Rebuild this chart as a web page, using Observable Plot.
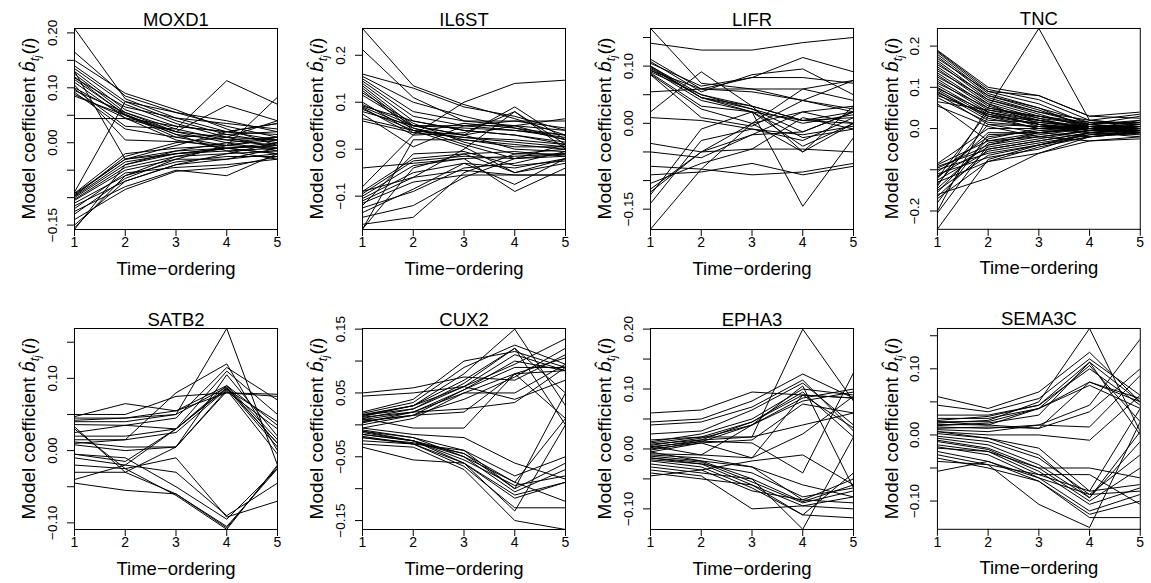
<!DOCTYPE html>
<html><head><meta charset="utf-8">
<script src="https://cdn.jsdelivr.net/npm/d3@7"></script>
<script src="https://cdn.jsdelivr.net/npm/@observablehq/plot@0.6"></script>
<style>
html,body{margin:0;padding:0;background:#fff;overflow:hidden}
#wrap{position:relative;width:1151px;height:583px;background:#fff}
.panel{position:absolute}
</style></head><body><div id="wrap"></div>
<script>
const genes = ["MOXD1","IL6ST","LIFR","TNC","SATB2","CUX2","EPHA3","SEMA3C"];
const timePoints = [1,2,3,4,5];
const xLabel = "Time\u2212ordering";
const yLabelText = "Model coefficient ";

// each row = one coefficient path over time-orderings 1..5
const moxd1 = [
[0.208,0.080,0.045,0.020,0.005],[0.165,0.085,0.055,0.030,0.010],[0.150,0.090,0.060,0.025,-0.005],
[0.140,0.075,0.040,0.015,0.000],[0.135,0.070,0.035,0.010,-0.010],[0.130,0.060,0.030,0.020,0.015],
[0.125,0.055,0.025,0.005,-0.005],[0.120,0.050,0.020,0.000,-0.015],[0.118,0.065,0.045,0.035,0.025],
[0.115,0.052,0.015,0.005,0.010],[0.110,0.045,0.030,0.020,0.035],[0.100,0.050,0.010,-0.005,-0.010],
[0.098,0.030,0.025,0.113,0.070],[0.095,0.055,0.020,0.068,0.040],[0.092,0.025,0.010,0.015,0.020],
[0.088,0.045,0.005,-0.010,-0.020],[0.085,0.050,0.015,-0.015,-0.030],[0.044,0.044,0.020,0.010,0.005],
[0.130,-0.030,-0.020,-0.010,0.000],[0.105,0.005,0.002,-0.005,0.005],
[-0.090,0.075,0.055,0.040,0.020],[-0.092,-0.020,-0.010,-0.005,0.083],[-0.095,-0.030,-0.015,-0.010,-0.005],
[-0.098,-0.035,-0.020,-0.015,-0.010],[-0.100,-0.040,-0.020,-0.010,-0.020],[-0.103,-0.045,-0.025,-0.020,-0.015],
[-0.105,-0.050,-0.030,-0.005,0.010],[-0.110,-0.060,-0.035,-0.025,-0.025],[-0.115,-0.070,-0.040,-0.030,-0.020],
[-0.120,-0.055,-0.045,-0.040,-0.030],[-0.125,-0.080,-0.050,-0.060,-0.020],[-0.130,-0.065,-0.030,-0.030,-0.010],
[-0.140,-0.085,-0.052,-0.045,-0.025],[-0.150,-0.070,-0.040,-0.020,0.000],[-0.155,-0.060,-0.025,-0.010,-0.005],
[-0.158,-0.040,-0.015,0.000,0.010],[-0.097,-0.025,0.000,0.010,0.040],[-0.093,-0.030,-0.005,0.020,0.035]
];
const il6st = [
[0.257,0.135,0.095,0.065,0.030],[0.212,0.110,0.060,0.050,0.020],[0.160,0.130,0.090,0.070,0.040],
[0.155,0.100,0.070,0.045,0.020],[0.150,0.080,0.060,0.060,0.060],[0.145,0.070,0.050,0.040,0.030],
[0.140,0.060,0.040,0.030,0.010],[0.135,0.050,0.030,0.050,0.065],[0.130,0.045,0.020,0.010,0.000],
[0.125,0.040,0.030,0.090,0.020],[0.120,0.055,0.015,-0.010,-0.010],[0.115,0.050,0.045,0.040,0.025],
[0.100,0.035,0.025,0.020,0.010],[0.095,0.050,0.050,0.050,0.040],[0.092,0.060,0.040,0.030,0.015],
[0.090,0.045,0.010,-0.020,-0.015],[0.088,0.030,0.035,0.080,0.000],[0.085,0.040,0.005,-0.050,-0.020],
[0.080,0.050,0.030,0.000,-0.005],[0.075,0.005,0.050,0.060,0.045],[0.065,0.040,0.025,0.015,0.005],
[0.060,0.035,0.055,0.045,0.030],
[-0.040,-0.030,-0.020,-0.015,-0.010],[-0.080,0.030,0.100,0.140,0.147],[-0.090,-0.020,-0.010,-0.050,-0.030],
[-0.095,-0.025,-0.015,-0.020,-0.010],[-0.100,-0.035,-0.020,-0.090,-0.040],[-0.105,-0.050,-0.030,-0.075,-0.020],
[-0.110,-0.060,-0.045,-0.055,-0.055],[-0.115,-0.070,-0.055,-0.055,-0.055],[-0.125,-0.090,-0.040,-0.030,-0.005],
[-0.135,-0.085,-0.030,-0.040,-0.020],[-0.145,-0.120,-0.060,-0.020,0.010],[-0.160,-0.145,-0.050,-0.010,0.000],
[-0.170,-0.040,-0.010,-0.005,-0.015],[-0.170,0.020,0.020,0.005,0.005],[-0.120,-0.010,-0.005,-0.035,-0.025],
[-0.090,-0.060,0.000,0.080,0.010]
];
const lifr = [
[0.140,0.128,0.128,0.141,0.150],[0.166,0.070,0.060,0.040,0.020],[0.112,0.060,0.080,0.115,0.090],
[0.108,0.055,0.085,0.095,0.050],[0.105,0.065,0.080,0.080,0.070],[0.100,0.050,0.030,0.005,0.010],
[0.098,0.045,0.025,0.000,0.015],[0.096,0.045,0.030,0.005,0.000],[0.094,0.040,0.020,0.005,0.020],
[0.092,0.060,0.055,0.040,0.025],[0.090,0.050,0.025,-0.015,0.020],[0.088,0.030,0.020,-0.025,-0.010],
[0.086,0.025,0.000,-0.050,0.030],[0.085,0.010,-0.005,0.040,0.075],[0.055,0.060,0.060,0.060,0.040],
[0.020,0.090,0.030,-0.050,0.000],[0.010,0.005,-0.010,-0.030,0.010],[-0.035,-0.050,-0.045,-0.045,-0.050],
[-0.050,-0.060,-0.020,0.020,0.000],[-0.075,-0.080,-0.090,-0.085,-0.070],[-0.090,-0.085,-0.070,-0.090,-0.075],
[-0.105,-0.070,-0.045,0.010,-0.010],[-0.115,-0.050,0.000,0.020,0.030],[-0.125,-0.010,0.020,-0.145,-0.025],
[-0.140,-0.030,-0.010,-0.020,-0.005],[-0.185,-0.080,0.000,0.060,0.075],[0.100,0.045,0.020,-0.040,0.000],
[-0.120,-0.050,-0.020,-0.015,0.020]
];
const tnc = [
[0.190,0.100,0.080,0.030,0.040],[0.188,0.095,0.070,0.020,0.035],[0.185,0.090,0.060,0.010,0.030],
[0.180,0.085,0.050,0.000,0.020],[0.175,0.080,0.045,0.005,0.010],[0.170,0.090,0.080,0.030,0.025],
[0.165,0.075,0.040,0.010,0.000],[0.160,0.070,0.035,0.000,-0.010],[0.155,0.080,0.050,0.015,0.015],
[0.150,0.065,0.030,0.005,0.005],[0.145,0.060,0.025,-0.005,-0.005],[0.140,0.070,0.040,0.020,0.010],
[0.135,0.055,0.020,0.000,0.000],[0.130,0.050,0.030,0.010,0.020],[0.125,0.060,0.010,-0.010,-0.015],
[0.120,0.045,0.020,0.000,0.005],[0.115,0.040,0.015,0.005,-0.005],[0.110,0.050,0.025,0.010,0.000],
[0.105,0.035,0.010,-0.005,0.010],[0.100,0.030,0.020,0.000,-0.010],[0.097,0.040,0.005,0.005,0.000],
[0.094,0.025,0.000,-0.010,-0.020],[0.090,0.020,0.015,0.000,0.005],[0.087,0.030,0.000,0.010,0.015],
[0.084,0.010,-0.010,-0.020,-0.010],[0.080,0.035,0.010,0.000,-0.005],[0.075,0.015,0.005,-0.005,0.005],
[0.065,0.045,0.030,0.015,0.010],[0.055,0.005,-0.020,-0.030,-0.025],[0.060,-0.030,-0.010,0.000,0.000],
[-0.085,0.000,0.000,0.005,0.010],[-0.088,-0.030,-0.020,-0.005,0.000],[-0.092,-0.050,-0.030,-0.010,-0.005],
[-0.096,-0.040,-0.010,0.000,0.005],[-0.100,-0.060,-0.040,-0.020,-0.010],[-0.105,-0.020,-0.005,0.000,0.000],
[-0.110,-0.070,-0.050,-0.010,0.000],[-0.115,-0.045,-0.025,-0.005,-0.010],[-0.120,-0.010,-0.010,0.005,0.010],
[-0.125,-0.055,-0.035,-0.015,-0.005],[-0.130,-0.080,-0.060,-0.030,-0.020],[-0.135,0.010,0.005,0.000,0.000],
[-0.140,0.050,0.243,0.020,0.010],[-0.145,-0.035,-0.015,0.000,0.005],[-0.150,-0.065,-0.040,-0.015,-0.010],
[-0.155,-0.025,0.000,0.000,0.000],[-0.160,-0.120,-0.060,-0.020,-0.005],[-0.165,-0.050,-0.030,-0.010,0.000],
[-0.170,-0.080,-0.045,-0.020,-0.010],[-0.180,-0.015,-0.010,0.000,-0.005],[-0.200,0.030,0.010,0.000,0.005],
[-0.205,-0.040,-0.020,-0.005,0.000],[-0.244,-0.075,-0.040,-0.010,-0.005],[-0.120,0.040,0.020,0.005,0.005]
];
const satb2 = [
[0.050,0.050,0.075,0.080,0.078],[0.047,0.065,0.055,0.090,0.035],[0.042,0.045,0.050,0.088,0.010],
[0.040,0.040,0.050,0.169,-0.020],[0.036,0.035,0.045,0.115,0.070],[0.033,-0.030,-0.060,-0.105,-0.025],
[0.030,-0.025,-0.062,-0.109,-0.020],[0.025,0.035,0.030,0.110,0.050],[0.015,0.015,0.025,0.085,0.040],
[0.012,0.005,0.005,0.082,0.030],[0.010,0.015,0.080,0.120,0.000],[0.008,0.000,0.005,0.105,0.020],
[-0.005,-0.015,0.030,0.087,0.010],[-0.005,-0.010,-0.050,-0.095,-0.025],[-0.010,-0.020,-0.030,-0.090,-0.045],
[-0.020,-0.025,-0.010,-0.092,-0.070],[-0.030,-0.030,0.005,0.084,-0.005],[-0.040,-0.020,0.030,0.090,0.015],
[-0.045,-0.055,-0.060,-0.107,-0.022],[0.045,0.045,0.055,0.080,0.075],[0.020,0.020,0.030,0.086,0.005]
];
const cux2 = [
[0.050,0.058,0.075,0.070,0.110],[0.045,0.050,0.060,0.040,0.070],[0.020,0.040,0.100,0.115,0.090],
[0.018,0.035,0.090,0.125,0.095],[0.016,0.030,0.080,0.150,0.030],[0.015,0.025,0.065,0.120,0.050],
[0.013,0.030,0.060,0.095,0.135],[0.012,0.020,0.055,0.090,0.090],[0.010,0.025,0.060,0.110,0.085],
[0.008,0.020,0.050,0.080,0.105],[0.006,0.015,0.040,0.075,0.120],[0.005,0.015,0.020,0.080,0.010],
[0.003,0.020,0.025,0.035,0.090],[0.000,0.015,0.055,0.100,0.085],[-0.005,0.010,0.050,0.050,0.095],
[0.015,0.030,0.070,0.120,0.000],[0.010,-0.005,-0.005,0.080,0.085],
[-0.005,-0.015,-0.020,-0.060,-0.085],[-0.008,-0.020,-0.040,-0.080,-0.050],[-0.010,-0.025,-0.045,-0.100,-0.060],
[-0.012,-0.025,-0.050,-0.105,-0.070],[-0.015,-0.025,-0.055,-0.095,-0.080],[-0.018,-0.030,-0.060,-0.110,-0.090],
[-0.020,-0.028,-0.045,-0.090,-0.120],[-0.025,-0.030,-0.065,-0.130,-0.130],[-0.030,-0.035,-0.070,-0.150,-0.164],
[-0.035,-0.055,-0.060,-0.135,0.000],[-0.020,-0.030,-0.040,-0.100,0.050],[-0.010,-0.020,-0.050,-0.090,0.010],
[-0.015,-0.025,-0.060,-0.115,-0.090]
];
const epha3 = [
[0.060,0.065,0.095,0.090,0.085],[0.045,0.050,0.080,0.125,0.085],[0.040,0.045,0.070,0.115,0.030],
[0.025,0.030,0.065,0.110,0.040],[0.012,0.025,0.050,0.100,0.090],[0.010,0.020,0.045,0.095,0.020],
[0.008,0.015,0.045,0.090,0.035],[0.006,0.018,0.040,0.085,0.100],[0.004,0.012,0.040,0.080,0.095],
[0.002,0.015,0.020,0.200,0.080],[0.000,0.010,0.015,0.075,0.060],[-0.002,0.013,0.010,-0.040,0.127],
[-0.005,0.010,-0.015,0.025,0.088],[-0.008,-0.010,0.040,0.105,-0.065],[-0.010,-0.015,-0.030,-0.085,-0.050],
[-0.012,-0.020,-0.050,-0.088,-0.060],[-0.015,-0.022,-0.055,-0.090,-0.070],[-0.018,-0.025,-0.060,-0.095,-0.080],
[-0.020,-0.030,-0.065,-0.110,-0.040],[-0.025,-0.035,-0.070,-0.085,-0.090],[-0.030,-0.040,-0.050,-0.134,0.020],
[-0.035,-0.045,-0.100,-0.095,-0.100],[-0.040,-0.050,-0.060,-0.110,-0.115],[-0.045,-0.035,-0.020,-0.010,-0.060],
[0.015,0.020,0.020,0.040,0.060],[-0.005,-0.020,-0.030,-0.060,-0.080],[0.005,-0.010,-0.015,0.090,0.085],
[-0.015,-0.025,-0.040,-0.080,-0.065]
];
const sema3c = [
[0.058,0.040,0.065,0.125,0.050],[0.045,0.035,0.055,0.115,0.060],[0.030,0.030,0.045,0.110,0.050],
[0.025,0.025,0.040,0.105,0.020],[0.022,0.028,0.045,0.100,0.045],[0.020,0.020,0.040,0.080,0.055],
[0.018,0.022,0.050,0.161,0.005],[0.016,0.015,0.040,0.075,0.040],[0.014,0.018,0.030,0.110,0.000],
[0.012,0.010,0.015,0.045,0.145],[0.010,0.012,0.010,0.035,0.100],[0.008,0.005,0.015,0.012,0.090],
[0.005,0.000,0.000,-0.008,0.060],[0.002,-0.005,-0.020,-0.085,-0.075],[-0.002,-0.010,-0.035,-0.090,-0.030],
[-0.005,-0.015,-0.045,-0.095,-0.010],[-0.008,-0.020,-0.050,-0.100,-0.050],[-0.010,-0.022,-0.055,-0.105,-0.080],
[-0.015,-0.025,-0.060,-0.085,0.040],[-0.018,-0.030,-0.065,-0.115,-0.090],[-0.020,-0.025,-0.050,-0.050,-0.065],
[-0.025,-0.040,-0.070,-0.120,-0.100],[-0.030,-0.045,-0.060,-0.060,-0.105],[-0.035,-0.050,-0.070,-0.125,-0.125],
[-0.040,-0.045,-0.105,-0.140,0.020],[-0.055,-0.040,-0.065,-0.090,-0.085],[0.005,-0.005,-0.030,-0.095,0.005],
[0.020,0.015,0.010,0.080,0.050]
];

// y-axis ranges (data extents)
const yDomains = [
[-0.158,0.208],[-0.171,0.257],[-0.1855,0.1657],[-0.2444,0.2428],
[-0.1092,0.169],[-0.164,0.151],[-0.1344,0.201],[-0.1427,0.161]
];
// tick marks
const yTicks = [
[-0.15,-0.10,-0.05,0,0.05,0.10,0.15,0.20],
[-0.1,0,0.1,0.2],
[-0.15,-0.10,-0.05,0,0.05,0.10,0.15],
[-0.2,-0.1,0,0.1,0.2],
[-0.10,-0.05,0,0.05,0.10,0.15],
[-0.15,-0.10,-0.05,0,0.05,0.10,0.15],
[-0.10,-0.05,0,0.05,0.10,0.15,0.20],
[-0.10,-0.05,0,0.05,0.10,0.15]
];
// ticks that carry a label
const yLabeled = [
[-0.15,0,0.10,0.20],
[-0.1,0,0.1,0.2],
[-0.15,0,0.10],
[-0.2,0,0.1,0.2],
[-0.10,0,0.10],
[-0.15,-0.05,0.05,0.15],
[-0.10,0,0.10,0.20],
[-0.10,0,0.10]
];
const yDigits = [2,1,2,1,2,2,2,2];
const series = [moxd1, il6st, lifr, tnc, satb2, cux2, epha3, sema3c];

const FONT = "'Liberation Sans', Arial, Helvetica, sans-serif";
const wrap = document.getElementById("wrap");

genes.forEach((name, i) => {
  const rows = series[i];
  const data = rows.flatMap((r, k) => r.map((v, t) => ({id: k, t: timePoints[t], v})));
  const fmt = d3.format(`.${yDigits[i]}f`);
  const svg = Plot.plot({
    width: 288, height: 284,
    marginLeft: 74, marginRight: 11, marginTop: 28, marginBottom: 55,
    style: {fontFamily: FONT, color: "black", background: "white", overflow: "visible"},
    x: {domain: [1, 5]},
    y: {domain: yDomains[i]},
    marks: [
      Plot.line(data, {x: "t", y: "v", z: "id", stroke: "black", strokeWidth: 1, clip: true}),
      Plot.frame({stroke: "black", strokeWidth: 1}),
      // tick marks only
      Plot.axisX({ticks: timePoints, tickSize: 7, fill: "none", label: null}),
      Plot.axisY({ticks: yTicks[i], tickSize: 7, fill: "none", label: null}),
      // tick labels
      Plot.text(timePoints, {x: d => d, text: d => String(d), frameAnchor: "bottom", dy: 8, lineAnchor: "top", fontSize: 14, fill: "black"}),
      Plot.text(yLabeled[i], {y: d => d, text: d => fmt(d), frameAnchor: "left", dx: -18, rotate: -90, textAnchor: "middle", lineAnchor: "bottom", fontSize: 13.5, fill: "black"}),
      Plot.text([name], {text: d => d, frameAnchor: "top", dy: -3, lineAnchor: "bottom", fontSize: 18.5, fill: "black"}),
      Plot.text([xLabel], {text: d => d, frameAnchor: "bottom", dy: 45, lineAnchor: "bottom", fontSize: 18.5, fill: "black"})
    ]
  });
  const s = d3.select(svg);
  const t = s.append("text")
    .attr("transform", "translate(35,128.5) rotate(-90)")
    .attr("text-anchor", "middle")
    .attr("font-size", 19)
    .attr("fill", "black");
  t.append("tspan").text(yLabelText);
  t.append("tspan").attr("font-style", "italic").text("b\u0302");
  t.append("tspan").attr("font-style", "italic").attr("font-size", 13).attr("dy", 4).text("t");
  t.append("tspan").attr("font-style", "italic").attr("font-size", 10).attr("dy", 2).text("j");
  t.append("tspan").attr("dy", -6).attr("dx", 1).text("(");
  t.append("tspan").attr("font-style", "italic").text("i");
  t.append("tspan").text(")");

  const div = document.createElement("div");
  div.className = "panel";
  div.style.left = (i % 4) * 287.75 + "px";
  div.style.top = (i < 4 ? 0 : 299.5) + "px";
  div.appendChild(svg);
  wrap.appendChild(div);
});
</script></body></html>
